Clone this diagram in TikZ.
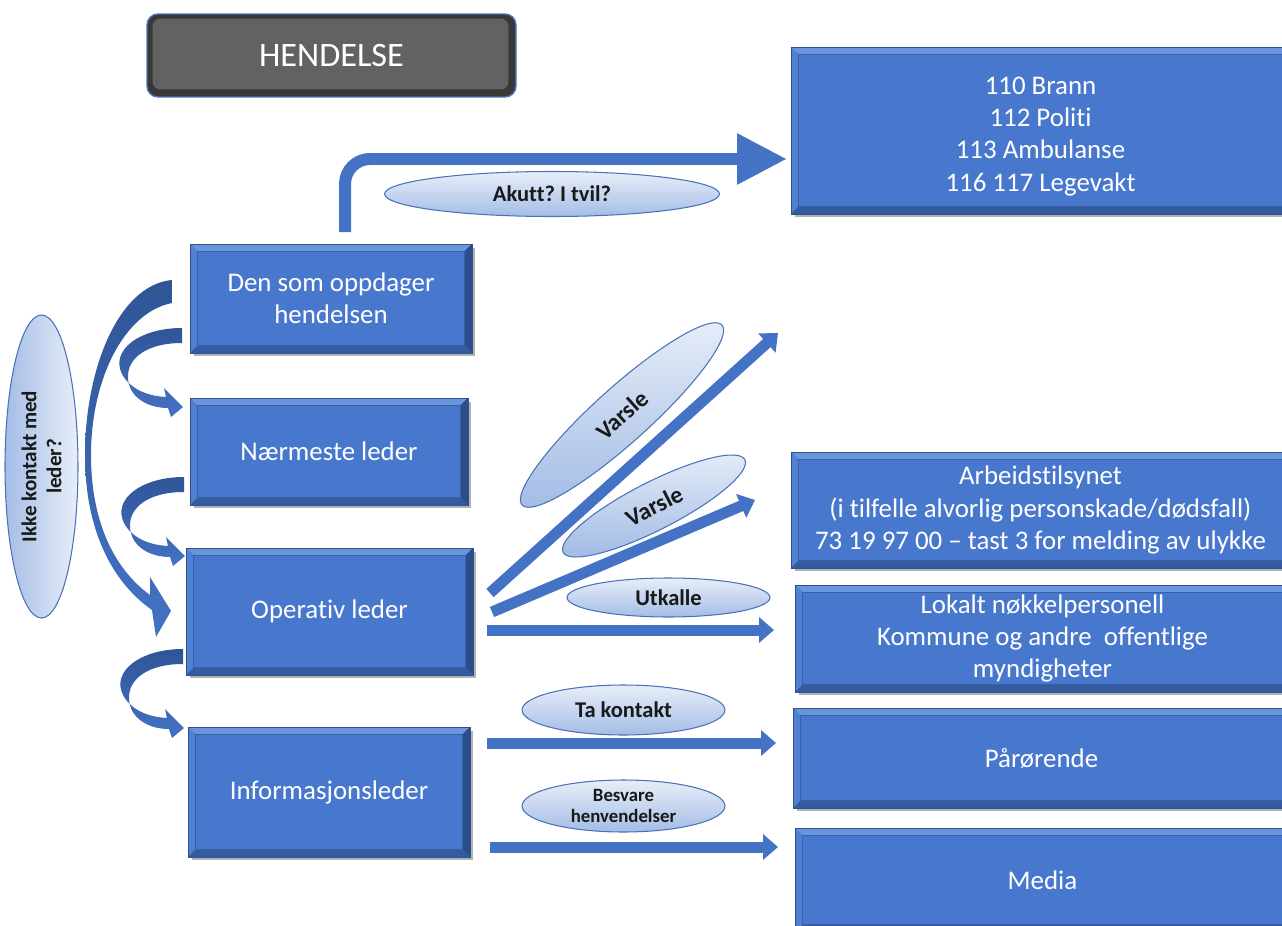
\documentclass[tikz,border=0pt]{standalone}
\usepackage{fontspec}
\setmainfont{Carlito}[Ligatures=NoCommon]
\frenchspacing
\usetikzlibrary{shapes.geometric,arrows.meta,shadows}
\definecolor{boxblue}{HTML}{4878CE}
\definecolor{boxedge}{HTML}{2F528F}
\definecolor{bevtop}{HTML}{6A95DE}
\definecolor{bevleft}{HTML}{4F80D2}
\definecolor{bevright}{HTML}{2C4D8C}
\definecolor{bevbot}{HTML}{345A9F}
\definecolor{arrowblue}{HTML}{4472C4}
\definecolor{arrowdark}{HTML}{2F5597}
\definecolor{ellTop}{HTML}{E8EEF8}
\definecolor{ellBot}{HTML}{A4BDE6}
\definecolor{ellEdge}{HTML}{4A72B8}
\definecolor{greyin}{HTML}{626262}
\definecolor{greyout}{HTML}{383838}
\newlength{\bevw}\setlength{\bevw}{0.15cm}
\newcommand{\fBox}{\fontsize{15.3}{18.4}\selectfont}
\newcommand{\fHend}{\fontsize{19.5}{23}\selectfont}
\newcommand{\fEll}{\bfseries\fontsize{12.8}{15}\selectfont}
\newcommand{\fVar}{\bfseries\fontsize{13.7}{16}\selectfont}
\newcommand{\fBes}{\bfseries\fontsize{10.7}{12.3}\selectfont}
\newcommand{\fIkke}{\bfseries\fontsize{12}{14.2}\selectfont}
\newcommand{\smallcurve}[1]{%
  \begin{scope}[shift={#1}]
    \shade[top color=arrowdark, bottom color=arrowblue]
      (0,0) .. controls (-42,0) and (-72,22) .. (-60,46)
      .. controls (-52,61) and (-35,68) .. (-16,69)
      -- (-18,60) -- (1,79) -- (-11,89) -- (-14,80)
      .. controls (-35,80) and (-53,69) .. (-54,50)
      .. controls (-55,30) and (-35,15) .. (0,15) -- cycle;
  \end{scope}}
\tikzset{
  bevelbox/.style={draw=boxedge, line width=0.5pt, fill=boxblue, text=white,
    align=center, font=\fBox, inner sep=0pt,
    drop shadow={shadow xshift=0.07cm, shadow yshift=-0.07cm, opacity=0.3, fill=black},
    path picture={
      \fill[bevtop] (path picture bounding box.north west) -- (path picture bounding box.north east)
        -- ([xshift=-\bevw,yshift=-\bevw]path picture bounding box.north east)
        -- ([xshift=\bevw,yshift=-\bevw]path picture bounding box.north west) -- cycle;
      \fill[bevleft] (path picture bounding box.north west) -- (path picture bounding box.south west)
        -- ([xshift=\bevw,yshift=\bevw]path picture bounding box.south west)
        -- ([xshift=\bevw,yshift=-\bevw]path picture bounding box.north west) -- cycle;
      \fill[bevright] (path picture bounding box.north east) -- (path picture bounding box.south east)
        -- ([xshift=-\bevw,yshift=\bevw]path picture bounding box.south east)
        -- ([xshift=-\bevw,yshift=-\bevw]path picture bounding box.north east) -- cycle;
      \fill[bevbot] (path picture bounding box.south west) -- (path picture bounding box.south east)
        -- ([xshift=-\bevw,yshift=\bevw]path picture bounding box.south east)
        -- ([xshift=\bevw,yshift=\bevw]path picture bounding box.south west) -- cycle;
      \draw[boxedge!60!boxblue, line width=0.4pt]
        ([xshift=\bevw,yshift=-\bevw]path picture bounding box.north west) rectangle
        ([xshift=-\bevw,yshift=\bevw]path picture bounding box.south east);
    }},
  hbox/.style={rounded corners=0.22cm, fill=greyout, draw=ellEdge, line width=0.8pt,
    text=white, font=\fHend, inner sep=0pt,
    path picture={
      \fill[greyin, rounded corners=0.16cm]
        ([xshift=0.11cm,yshift=-0.09cm]path picture bounding box.north west) rectangle
        ([xshift=-0.15cm,yshift=0.15cm]path picture bounding box.south east);
    }},
  bubble/.style={ellipse, draw=ellEdge, line width=0.6pt, top color=ellTop,
    bottom color=ellBot, text=black!90, inner sep=0pt},
  flowarrow/.style={draw=arrowblue, line width=0.22cm,
    -{Triangle[length=0.3cm,width=0.5cm]}},
  bigarrow/.style={draw=arrowblue, line width=0.24cm, rounded corners=0.5cm,
    -{Triangle[length=1.0cm,width=0.96cm]}}
}
\begin{document}
\begin{tikzpicture}[x=0.02cm, y=-0.02cm]
\fill[white] (0,0) rectangle (1282,926);
\useasboundingbox (0,0) rectangle (1282,926);

% header
\node[hbox, minimum width=7.38cm, minimum height=1.66cm] (hend) at (331.5,55.5) {HENDELSE};

% left column boxes
\node[bevelbox, minimum width=5.64cm, minimum height=2.18cm] (den) at (331,298.5) {Den som oppdager\\hendelsen};
\node[bevelbox, minimum width=5.56cm, minimum height=2.14cm] (naer) at (329,451.5) {Nærmeste leder};
\node[bevelbox, minimum width=5.74cm, minimum height=2.54cm] (oper) at (329.5,611.5) {Operativ leder};
\node[bevelbox, minimum width=5.64cm, minimum height=2.60cm] (info) at (329,792) {Informasjonsleder};

% right column boxes
\node[bevelbox, minimum width=9.98cm, minimum height=3.34cm] (emerg) at (1040.5,130.5) {\rule{0pt}{0.58cm}110 Brann\\112 Politi\\113 Ambulanse\\116 117 Legevakt};
\node[bevelbox, minimum width=9.98cm, minimum height=2.32cm] (arb) at (1040.5,510) {Arbeidstilsynet\\(i tilfelle alvorlig personskade/dødsfall)\\73 19 97 00 – tast 3 for melding av ulykke};
\node[bevelbox, minimum width=9.90cm, minimum height=2.14cm] (lok) at (1042.5,638.5) {Lokalt nøkkelpersonell\\Kommune og andre\ \ offentlige\\myndigheter};
\node[bevelbox, minimum width=9.94cm, minimum height=2.0cm] (par) at (1041.5,758) {Pårørende};
\node[bevelbox, minimum width=9.90cm, minimum height=2.08cm] (media) at (1042.5,880) {Media};

% top arrow
\coordinate (aS) at (345,232);
\coordinate (aE) at (787,159);
\draw[bigarrow] (aS) |- (aE);
\node[bubble, minimum width=6.7cm, minimum height=0.9cm, font=\fEll] (akutt) at (552,194) {Akutt? I tvil?};

% curved arrows on the left
\shade[top color=arrowdark, bottom color=arrowblue]
  (172,280) .. controls (118,285) and (85,370) .. (85,455)
  .. controls (85,530) and (112,582) .. (152,610)
  -- (156,637) -- (171,611) -- (150,577) -- (150,595)
  .. controls (113,568) and (91,520) .. (91,455)
  .. controls (91,378) and (125,312) .. (172,303) -- cycle;
\smallcurve{(182,328)}
\smallcurve{(184,477)}
\smallcurve{(183,649)}

\node[bubble, rotate=90, minimum width=6.06cm, minimum height=1.46cm, font=\fIkke, align=center,
  left color=ellBot, right color=ellTop] (ikke) at (41.5,466.5) {Ikke kontakt med\\leder?};

% arrows from Operativ leder
\coordinate (d1s) at (490,593); \coordinate (d1e) at (778,333);
\coordinate (d2s) at (492,612); \coordinate (d2e) at (755,500);
\coordinate (h1s) at (487,630); \coordinate (h1e) at (774,630);
\draw[flowarrow] (d1s) -- (d1e);
\draw[flowarrow] (d2s) -- (d2e);
\draw[flowarrow] (h1s) -- (h1e);
\node[bubble, rotate=42, minimum width=5.38cm, minimum height=1.1cm, font=\fVar] (var1) at (622,415) {Varsle};
\node[bubble, rotate=27, minimum width=4.08cm, minimum height=0.96cm, font=\fVar] (var2) at (654,506) {Varsle};
\node[bubble, minimum width=4.06cm, minimum height=0.78cm, font=\fEll] (utk) at (668.5,597.5) {Utkalle};

% arrows from Informasjonsleder
\coordinate (h2s) at (487,743); \coordinate (h2e) at (776,743);
\coordinate (h3s) at (490,847); \coordinate (h3e) at (778,847);
\draw[flowarrow] (h2s) -- (h2e);
\draw[flowarrow] (h3s) -- (h3e);
\node[bubble, minimum width=4.06cm, minimum height=1.0cm, font=\fEll] (tak) at (623.5,710) {Ta kontakt};
\node[bubble, minimum width=4.06cm, minimum height=1.04cm, font=\fBes, align=center] (besv) at (623.5,806) {Besvare\\henvendelser};
\end{tikzpicture}
\end{document}
